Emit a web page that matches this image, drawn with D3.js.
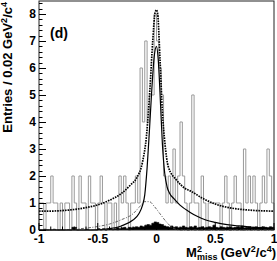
<!DOCTYPE html>
<html>
<head>
<meta charset="utf-8">
<script src="https://cdn.jsdelivr.net/npm/d3@7"></script>
<style>
  html, body { margin: 0; padding: 0; background: #fff; }
  svg { display: block; font-family: "Liberation Sans", Arial, sans-serif; font-weight: bold; }
</style>
</head>
<body>
<div id="chart"></div>
<script>
// histogram binning: 100 bins of 0.02 from -1 to 1
var binStart = -1, binWidth = 0.02;

// data entries per bin (grey outline)
var counts = [
  1, 1, 0, 1, 1, 2, 1, 1, 0, 1,
  0, 1, 1, 0, 2, 1, 0, 2, 1, 1,
  0, 2, 1, 1, 0, 1, 2, 1, 0, 1,
  1, 0, 1, 0, 2, 1, 2, 1, 0, 1,
  1, 2, 1, 6, 4, 7, 4, 5, 5, 8,
  7, 6, 5, 2, 1, 2, 1, 3, 1, 2,
  4, 2, 1, 0, 1, 5, 1, 1, 0, 2,
  1, 0, 1, 1, 1, 1, 1, 0, 1, 2,
  1, 0, 1, 2, 1, 1, 0, 3, 1, 2,
  1, 2, 1, 0, 1, 2, 1, 3, 2, 1
];

// small black filled histogram along the bottom
var bkgCounts = [
  0, 0, 0.03, 0, 0, 0, 0.03, 0, 0, 0,
  0, 0, 0, 0, 0.1, 0.1, 0, 0, 0, 0,
  0.03, 0, 0, 0, 0, 0.05, 0, 0.05, 0, 0.03,
  0.05, 0.03, 0.05, 0.08, 0.05, 0.08, 0.1, 0.05, 0.1, 0.08,
  0.1, 0.12, 0.1, 0.15, 0.12, 0.18, 0.2, 0.18, 0.25, 0.3,
  0.28, 0.22, 0.2, 0.15, 0.12, 0.1, 0.15, 0.1, 0.12, 0.08,
  0.1, 0.15, 0.1, 0.08, 0.12, 0.1, 0.15, 0.08, 0.1, 0.12,
  0.08, 0.1, 0.12, 0.1, 0.18, 0.1, 0.08, 0.12, 0.1, 0.08,
  0.1, 0.12, 0.08, 0.1, 0.12, 0.1, 0.15, 0.08, 0.1, 0.12,
  0.08, 0.1, 0.12, 0.08, 0.1, 0.12, 0.1, 0.08, 0.12, 0.1
];

// fit curves, points [x, y]
var totalFit = [
  [-1, 0.70], [-0.9, 0.70], [-0.8, 0.72], [-0.7, 0.76], [-0.6, 0.83], [-0.5, 0.93],
  [-0.4, 1.10], [-0.3, 1.35], [-0.22, 1.67], [-0.17, 1.92], [-0.12, 2.5], [-0.085, 3.5],
  [-0.055, 5.3], [-0.032, 7.0], [-0.012, 8.05], [0, 8.15], [0.01, 8.0], [0.03, 6.3],
  [0.05, 4.4], [0.072, 3.2], [0.1, 2.35], [0.17, 1.85], [0.24, 1.55], [0.3, 1.42],
  [0.39, 1.18], [0.5, 0.96], [0.64, 0.81], [0.78, 0.74], [0.9, 0.71], [1, 0.70]
];
var signalFit = [
  [-1, 0], [-0.6, 0], [-0.5, 0.01], [-0.4, 0.05], [-0.3, 0.15], [-0.2, 0.37],
  [-0.15, 0.6], [-0.12, 0.9], [-0.1, 1.3], [-0.08, 2.3], [-0.06, 3.7], [-0.04, 5.2],
  [-0.02, 6.4], [0, 6.8], [0.015, 6.3], [0.035, 4.6], [0.05, 3.2], [0.07, 2.1],
  [0.09, 1.6], [0.11, 1.37], [0.15, 1.15], [0.2, 0.92], [0.28, 0.67], [0.35, 0.5],
  [0.42, 0.37], [0.5, 0.28], [0.6, 0.2], [0.7, 0.15], [0.8, 0.11], [0.9, 0.08], [1, 0.06]
];
var peakingBkgFit = [
  [-1, 0], [-0.8, 0.01], [-0.7, 0.03], [-0.6, 0.07], [-0.5, 0.13], [-0.4, 0.22],
  [-0.3, 0.38], [-0.2, 0.6], [-0.14, 0.88], [-0.1, 1.05], [-0.06, 1.05], [-0.02, 0.88],
  [0.03, 0.6], [0.08, 0.32], [0.12, 0.14], [0.15, 0.05], [0.2, 0], [1, 0]
];

var xTicks = [-1, -0.5, 0, 0.5, 1];
var yTicks = [0, 1, 2, 3, 4, 5, 6, 7, 8];

var width = 277, height = 261;
var plot = { left: 39, right: 274, top: 1, bottom: 230 };

var svg = d3.select('#chart').append('svg')
  .attr('width', width)
  .attr('height', height);

var x = d3.scaleLinear().domain([-1, 1]).range([plot.left, plot.right]);
var y = d3.scaleLinear().domain([0, 8.48]).range([plot.bottom, plot.top]);

var bins = counts.map(function (c, i) {
  return { x0: binStart + i * binWidth, x1: binStart + (i + 1) * binWidth, n: c, b: bkgCounts[i] };
});

// step outline points for a histogram
var stepPoints = function (key) {
  var pts = [[bins[0].x0, 0]];
  bins.forEach(function (d) {
    pts.push([d.x0, d[key]]);
    pts.push([d.x1, d[key]]);
  });
  pts.push([bins[bins.length - 1].x1, 0]);
  return pts;
};

var line = d3.line()
  .x(function (d) { return x(d[0]); })
  .y(function (d) { return y(d[1]); });

// grey data histogram outline
svg.append('path')
  .datum(stepPoints('n'))
  .attr('d', line)
  .attr('fill', 'none')
  .attr('stroke', '#9a9a9a')
  .attr('stroke-width', 1);

// black filled histogram
svg.append('path')
  .datum(stepPoints('b'))
  .attr('d', line)
  .attr('fill', '#000')
  .attr('stroke', '#000')
  .attr('stroke-width', 0.6);

var curve = d3.line()
  .x(function (d) { return x(d[0]); })
  .y(function (d) { return y(d[1]); })
  .curve(d3.curveMonotoneX);

// dash-dot peaking background
svg.append('path')
  .datum(peakingBkgFit)
  .attr('d', curve)
  .attr('fill', 'none')
  .attr('stroke', '#555')
  .attr('stroke-width', 0.9)
  .attr('stroke-dasharray', '3,1.5,1,1.5');

// solid signal
svg.append('path')
  .datum(signalFit)
  .attr('d', curve)
  .attr('fill', 'none')
  .attr('stroke', '#000')
  .attr('stroke-width', 1.2);

// dotted total
svg.append('path')
  .datum(totalFit)
  .attr('d', curve)
  .attr('fill', 'none')
  .attr('stroke', '#000')
  .attr('stroke-width', 1.7)
  .attr('stroke-dasharray', '1.6,1');

// frame
svg.append('rect')
  .attr('x', plot.left)
  .attr('y', plot.top)
  .attr('width', plot.right - plot.left)
  .attr('height', plot.bottom - plot.top)
  .attr('fill', 'none')
  .attr('stroke', '#222')
  .attr('stroke-width', 1);

// y axis ticks (inside), minor every 0.2
var yMinor = d3.range(0, 8.41, 0.2);
svg.append('g')
  .selectAll('line')
  .data(yMinor)
  .enter().append('line')
  .attr('x1', plot.left)
  .attr('x2', function (d) { return Math.abs(d - Math.round(d)) < 1e-6 ? plot.left + 7 : plot.left + 3.5; })
  .attr('y1', function (d) { return Math.round(y(d)) + 0.5; })
  .attr('y2', function (d) { return Math.round(y(d)) + 0.5; })
  .attr('stroke', '#000')
  .attr('stroke-width', 1);

svg.append('g')
  .selectAll('text')
  .data(yTicks)
  .enter().append('text')
  .attr('x', plot.left - 3)
  .attr('y', function (d) { return y(d) + 4; })
  .attr('text-anchor', 'end')
  .attr('font-size', 12)
  .text(function (d) { return d; });

// x axis ticks (inside), minor every 0.1
var xMinor = d3.range(-1, 1.001, 0.1);
svg.append('g')
  .selectAll('line')
  .data(xMinor)
  .enter().append('line')
  .attr('x1', function (d) { return x(d); })
  .attr('x2', function (d) { return x(d); })
  .attr('y1', plot.bottom)
  .attr('y2', function (d) { return Math.abs(d * 2 - Math.round(d * 2)) < 1e-6 ? plot.bottom - 7 : plot.bottom - 3.5; })
  .attr('stroke', '#000')
  .attr('stroke-width', 1);

svg.append('g')
  .selectAll('text')
  .data(xTicks)
  .enter().append('text')
  .attr('x', function (d) { return x(d); })
  .attr('y', 243)
  .attr('text-anchor', 'middle')
  .attr('font-size', 12)
  .text(function (d) { return d; });

// panel label
svg.append('text')
  .attr('x', 50)
  .attr('y', 38)
  .attr('font-size', 14)
  .text('(d)');

// y title
var yTitle = svg.append('text')
  .attr('transform', 'translate(12,2) rotate(-90)')
  .attr('text-anchor', 'end')
  .attr('font-size', 13);
yTitle.append('tspan').text('Entries / 0.02 GeV');
yTitle.append('tspan').attr('dy', -5).attr('font-size', 9).text('2');
yTitle.append('tspan').attr('dy', 5).text('/c');
yTitle.append('tspan').attr('dy', -5).attr('font-size', 9).text('4');

// x title, built piece by piece and right aligned
var xt = svg.append('g');
var cx = 0, base = 257;
var piece = function (txt, size, dy) {
  var t = xt.append('text').attr('x', cx).attr('y', base + dy).attr('font-size', size).text(txt);
  return t.node().getComputedTextLength();
};
cx += piece('M', 13, 0);
var supW = piece('2', 9, -5);
var subW = piece('miss', 9, 3);
cx += Math.max(supW, subW) + 3;
cx += piece('(GeV', 13, 0);
cx += piece('2', 9, -5);
cx += piece('/c', 13, 0);
cx += piece('4', 9, -5);
cx += piece(')', 13, 0);
xt.attr('transform', 'translate(' + (276 - cx) + ',0)');
</script>
</body>
</html>
